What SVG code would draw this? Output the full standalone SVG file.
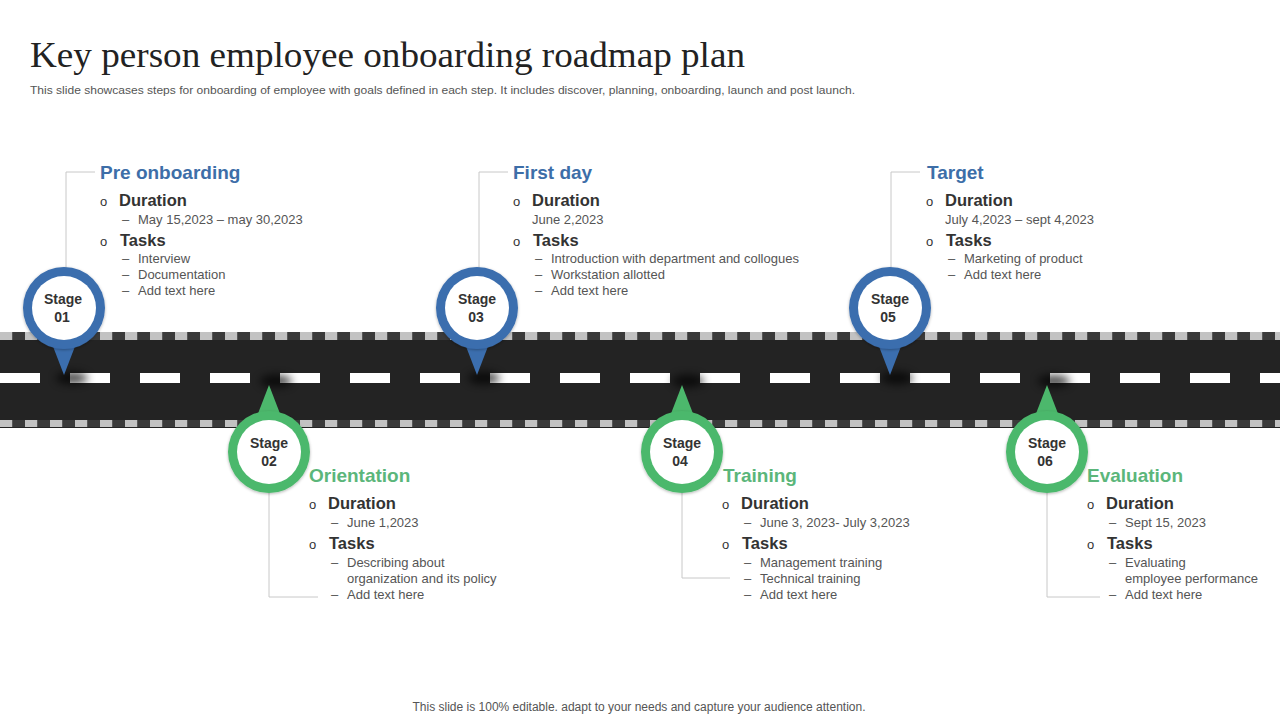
<svg xmlns="http://www.w3.org/2000/svg" width="1280" height="720" viewBox="0 0 1280 720">
<defs>
<style>
.title{font-family:"Liberation Serif",serif;font-size:36px;fill:#222}
.sub{font-family:"Liberation Sans",Arial,sans-serif;font-size:11.5px;fill:#555}
.foot{font-family:"Liberation Sans",Arial,sans-serif;font-size:12px;fill:#555}
.hb{font-family:"Liberation Sans",Arial,sans-serif;font-size:19px;font-weight:bold;fill:#3d6ea8}
.hg{font-family:"Liberation Sans",Arial,sans-serif;font-size:19px;font-weight:bold;fill:#5bb67a}
.bul{font-family:"Liberation Sans",Arial,sans-serif;font-size:16.5px;font-weight:bold;fill:#333}
.o{font-family:"Liberation Sans",Arial,sans-serif;font-size:13px;fill:#333}
.it{font-family:"Liberation Sans",Arial,sans-serif;font-size:13px;fill:#555}
.stg{font-family:"Liberation Sans",Arial,sans-serif;font-size:14px;font-weight:bold;fill:#333;text-anchor:middle}
.lnk{fill:none;stroke:#c8c8c8;stroke-width:1}
.blue{fill:#3b6eae}
.green{fill:#4cb86c}
</style>
<pattern id="chk" x="0" y="0" width="25" height="10" patternUnits="userSpaceOnUse">
<rect x="0" y="0" width="12.5" height="10" fill="#c2c2c2"/>
<rect x="12.5" y="0" width="12.5" height="10" fill="#3a3a3a"/>
</pattern>
<pattern id="dash" x="0" y="0" width="70" height="10" patternUnits="userSpaceOnUse">
<rect x="0" y="0" width="40" height="10" fill="#ffffff"/>
</pattern>
<filter id="blur" x="-50%" y="-100%" width="200%" height="300%"><feGaussianBlur stdDeviation="4"/></filter>
<filter id="ds" x="-30%" y="-30%" width="160%" height="160%"><feDropShadow dx="0" dy="1" stdDeviation="1.5" flood-color="#000" flood-opacity="0.3"/></filter>
</defs>
<rect width="1280" height="720" fill="#ffffff"/>

<g id="header">
<text class="title" x="30" y="67" textLength="715" lengthAdjust="spacingAndGlyphs">Key person employee onboarding roadmap plan</text>
<text class="sub" x="30" y="94" textLength="825" lengthAdjust="spacingAndGlyphs">This slide showcases steps for onboarding of employee with goals defined in each step. It includes discover, planning, onboarding, launch and post launch.</text>
</g>

<g id="road">
<rect x="0" y="332" width="1280" height="96" fill="#232323"/>
<rect x="0" y="332" width="1280" height="8" fill="url(#chk)"/>
<rect x="0" y="420" width="1280" height="7" fill="url(#chk)"/>
<rect x="0" y="373" width="1280" height="10" fill="url(#dash)"/>
</g>

<g id="connectors">
<polyline class="lnk" points="66,268 66,172 95,172"/>
<polyline class="lnk" points="479,268 479,172 508,172"/>
<polyline class="lnk" points="891,268 891,172 920,172"/>
<polyline class="lnk" points="269,493 269,597 318,597"/>
<polyline class="lnk" points="682,493 682,578 730,578"/>
<polyline class="lnk" points="1047,493 1047,597 1100,597"/>
</g>

<g id="stage01">
<ellipse cx="72" cy="378" rx="16" ry="6" fill="#000" opacity="0.7" filter="url(#blur)"/>
<path class="blue" d="M49,336 L79,336 L64,375 Z"/>
<circle class="blue" cx="64" cy="308" r="41" filter="url(#ds)"/>
<circle cx="64" cy="308" r="32" fill="#fff"/>
<text class="stg" x="63" y="304">Stage</text>
<text class="stg" x="62" y="322">01</text>
</g>

<g id="stage02">
<ellipse cx="276" cy="381" rx="16" ry="6" fill="#000" opacity="0.7" filter="url(#blur)"/>
<path class="green" d="M254,424 L284,424 L269,385 Z"/>
<circle class="green" cx="269" cy="452" r="41" filter="url(#ds)"/>
<circle cx="269" cy="452" r="32" fill="#fff"/>
<text class="stg" x="269" y="448">Stage</text>
<text class="stg" x="269" y="466">02</text>
</g>

<g id="stage03">
<ellipse cx="484" cy="378" rx="16" ry="6" fill="#000" opacity="0.7" filter="url(#blur)"/>
<path class="blue" d="M462,336 L492,336 L477,375 Z"/>
<circle class="blue" cx="477" cy="308" r="41" filter="url(#ds)"/>
<circle cx="477" cy="308" r="32" fill="#fff"/>
<text class="stg" x="477" y="304">Stage</text>
<text class="stg" x="476" y="322">03</text>
</g>

<g id="stage04">
<ellipse cx="688" cy="381" rx="16" ry="6" fill="#000" opacity="0.7" filter="url(#blur)"/>
<path class="green" d="M667,424 L697,424 L682,385 Z"/>
<circle class="green" cx="682" cy="452" r="41" filter="url(#ds)"/>
<circle cx="682" cy="452" r="32" fill="#fff"/>
<text class="stg" x="682" y="448">Stage</text>
<text class="stg" x="680" y="466">04</text>
</g>

<g id="stage05">
<ellipse cx="897" cy="378" rx="16" ry="6" fill="#000" opacity="0.7" filter="url(#blur)"/>
<path class="blue" d="M875,336 L905,336 L890,375 Z"/>
<circle class="blue" cx="890" cy="308" r="41" filter="url(#ds)"/>
<circle cx="890" cy="308" r="32" fill="#fff"/>
<text class="stg" x="890" y="304">Stage</text>
<text class="stg" x="888" y="322">05</text>
</g>

<g id="stage06">
<ellipse cx="1054" cy="381" rx="16" ry="6" fill="#000" opacity="0.7" filter="url(#blur)"/>
<path class="green" d="M1032,424 L1062,424 L1047,385 Z"/>
<circle class="green" cx="1047" cy="452" r="41" filter="url(#ds)"/>
<circle cx="1047" cy="452" r="32" fill="#fff"/>
<text class="stg" x="1047" y="448">Stage</text>
<text class="stg" x="1045" y="466">06</text>
</g>

<g id="text01">
<text class="hb" x="100" y="179">Pre onboarding</text>
<text class="o" x="100" y="206">o</text><text class="bul" x="119" y="206">Duration</text>
<text class="it" x="122" y="224">–</text><text class="it" x="138" y="224">May 15,2023 – may 30,2023</text>
<text class="o" x="100" y="246">o</text><text class="bul" x="120" y="246">Tasks</text>
<text class="it" x="122" y="263">–</text><text class="it" x="138" y="263">Interview</text>
<text class="it" x="122" y="279">–</text><text class="it" x="138" y="279">Documentation</text>
<text class="it" x="122" y="295">–</text><text class="it" x="138" y="295">Add text here</text>
</g>

<g id="text03">
<text class="hb" x="513" y="179">First day</text>
<text class="o" x="513" y="206">o</text><text class="bul" x="532" y="206">Duration</text>
<text class="it" x="532" y="224">June 2,2023</text>
<text class="o" x="513" y="246">o</text><text class="bul" x="533" y="246">Tasks</text>
<text class="it" x="535" y="263">–</text><text class="it" x="551" y="263">Introduction with department and collogues</text>
<text class="it" x="535" y="279">–</text><text class="it" x="551" y="279">Workstation allotted</text>
<text class="it" x="535" y="295">–</text><text class="it" x="551" y="295">Add text here</text>
</g>

<g id="text05">
<text class="hb" x="927" y="179">Target</text>
<text class="o" x="926" y="206">o</text><text class="bul" x="945" y="206">Duration</text>
<text class="it" x="945" y="224">July 4,2023 – sept 4,2023</text>
<text class="o" x="926" y="246">o</text><text class="bul" x="946" y="246">Tasks</text>
<text class="it" x="948" y="263">–</text><text class="it" x="964" y="263">Marketing of product</text>
<text class="it" x="948" y="279">–</text><text class="it" x="964" y="279">Add text here</text>
</g>

<g id="text02">
<text class="hg" x="309" y="482">Orientation</text>
<text class="o" x="309" y="509">o</text><text class="bul" x="328" y="509">Duration</text>
<text class="it" x="331" y="527">–</text><text class="it" x="347" y="527">June 1,2023</text>
<text class="o" x="309" y="549">o</text><text class="bul" x="329" y="549">Tasks</text>
<text class="it" x="331" y="567">–</text><text class="it" x="347" y="567">Describing about</text>
<text class="it" x="347" y="583">organization and its policy</text>
<text class="it" x="331" y="599">–</text><text class="it" x="347" y="599">Add text here</text>
</g>

<g id="text04">
<text class="hg" x="723" y="482">Training</text>
<text class="o" x="722" y="509">o</text><text class="bul" x="741" y="509">Duration</text>
<text class="it" x="744" y="527">–</text><text class="it" x="760" y="527">June 3, 2023- July 3,2023</text>
<text class="o" x="722" y="549">o</text><text class="bul" x="742" y="549">Tasks</text>
<text class="it" x="744" y="567">–</text><text class="it" x="760" y="567">Management training</text>
<text class="it" x="744" y="583">–</text><text class="it" x="760" y="583">Technical training</text>
<text class="it" x="744" y="599">–</text><text class="it" x="760" y="599">Add text here</text>
</g>

<g id="text06">
<text class="hg" x="1087" y="482">Evaluation</text>
<text class="o" x="1087" y="509">o</text><text class="bul" x="1106" y="509">Duration</text>
<text class="it" x="1109" y="527">–</text><text class="it" x="1125" y="527">Sept 15, 2023</text>
<text class="o" x="1087" y="549">o</text><text class="bul" x="1107" y="549">Tasks</text>
<text class="it" x="1109" y="567">–</text><text class="it" x="1125" y="567">Evaluating</text>
<text class="it" x="1125" y="583">employee performance</text>
<text class="it" x="1109" y="599">–</text><text class="it" x="1125" y="599">Add text here</text>
</g>

<g id="footer">
<text class="foot" x="639" y="711" text-anchor="middle">This slide is 100% editable. adapt to your needs and capture your audience attention.</text>
</g>
</svg>
